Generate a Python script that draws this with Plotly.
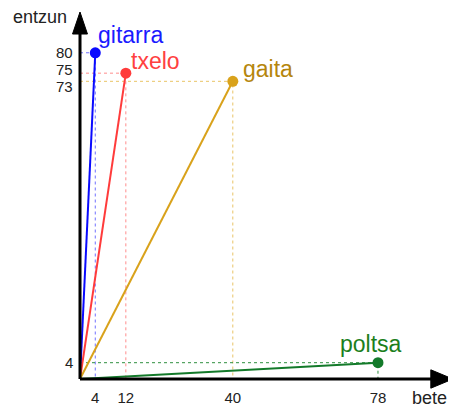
import plotly.graph_objects as go

names = ["gitarra", "txelo", "gaita", "poltsa"]
bete = [4, 12, 40, 78]
entzun = [80, 75, 73, 4]
line_colors = ["#0a0aff", "#ff3b3b", "#d9a21b", "#137a2a"]
text_colors = ["#1a1aff", "#ff4040", "#b5860d", "#1c7f1c"]
dot_colors = ["#7070ff", "#ff8c8c", "#e9c466", "#2f8f3f"]
x_ticks = [4, 12, 40, 78]
y_ticks = [4, 73, 75, 80]

FONT = "Liberation Sans, Arial, sans-serif"
fig = go.Figure()

for n, x, y, dc in zip(names, bete, entzun, dot_colors):
    fig.add_trace(go.Scatter(x=[0, x, x], y=[y, y, 0], mode="lines",
                             line=dict(color=dc, width=1, dash="dot"),
                             hoverinfo="skip", showlegend=False))

for n, x, y, lc in zip(names, bete, entzun, line_colors):
    fig.add_trace(go.Scatter(x=[0, x], y=[0, y], mode="lines+markers",
                             line=dict(color=lc, width=2),
                             marker=dict(color=lc, size=[0, 11], opacity=1,
                                         line=dict(width=0)),
                             name=n, showlegend=False))

label_pos = {
    "gitarra": dict(xanchor="left", yanchor="bottom", xshift=1, yshift=3),
    "txelo": dict(xanchor="left", yanchor="bottom", xshift=3, yshift=-3),
    "gaita": dict(xanchor="left", yanchor="bottom", xshift=8, yshift=-3),
    "poltsa": dict(xanchor="center", yanchor="bottom", xshift=-7, yshift=4),
}
for n, x, y, tc in zip(names, bete, entzun, text_colors):
    fig.add_annotation(x=x, y=y, text=n, showarrow=False,
                       font=dict(family=FONT, size=23, color=tc), **label_pos[n])

# y tick labels (nudged apart where values are close)
y_nudge = {4: 0, 73: -5, 75: 4, 80: 0}
for v in y_ticks:
    fig.add_annotation(x=0, y=v, xref="paper", text=str(v), showarrow=False,
                       xanchor="right", yanchor="middle", xshift=-5, yshift=y_nudge[v],
                       font=dict(family=FONT, size=15, color="#222"))

# axis titles
fig.add_annotation(x=-0.107, y=0.987, xref="paper", yref="paper", text="entzun",
                   showarrow=False, xanchor="center", yanchor="middle",
                   font=dict(family=FONT, size=18, color="#222"))
fig.add_annotation(x=0.935, y=-0.053, xref="paper", yref="paper", text="bete",
                   showarrow=False, xanchor="center", yanchor="middle",
                   font=dict(family=FONT, size=18, color="#222"))

# axis lines with arrowheads
fig.add_shape(type="line", xref="paper", yref="paper", x0=0, y0=0, x1=0.94, y1=0,
              line=dict(color="black", width=3))
fig.add_shape(type="path", xref="paper", yref="paper",
              path="M 0.938,0.025 L 0.997,0 L 0.938,-0.025 Z",
              fillcolor="black", line=dict(color="black", width=1))
fig.add_shape(type="line", xref="paper", yref="paper", x0=0, y0=0, x1=0, y1=0.945,
              line=dict(color="black", width=3))
fig.add_shape(type="path", xref="paper", yref="paper",
              path="M -0.02,0.94 L 0,1.0 L 0.02,0.94 Z",
              fillcolor="black", line=dict(color="black", width=1))

# page body has an 8px margin, so the figure is sized to fit the 456x408 window
fig.update_layout(
    width=448, height=400,
    margin=dict(l=72, r=2, t=4, b=29, autoexpand=False),
    paper_bgcolor="white", plot_bgcolor="white",
    xaxis=dict(range=[0, 97.9], showgrid=False, zeroline=False, showline=False,
               automargin=False,
               tickmode="array", tickvals=x_ticks, ticktext=[str(v) for v in x_ticks],
               ticks="outside", ticklen=5, tickcolor="rgba(0,0,0,0)",
               tickfont=dict(family=FONT, size=15, color="#222")),
    yaxis=dict(range=[0, 90], showgrid=False, zeroline=False, showline=False,
               automargin=False, showticklabels=False,
               tickmode="array", tickvals=y_ticks),
    showlegend=False,
)

fig.write_html("out.html")
